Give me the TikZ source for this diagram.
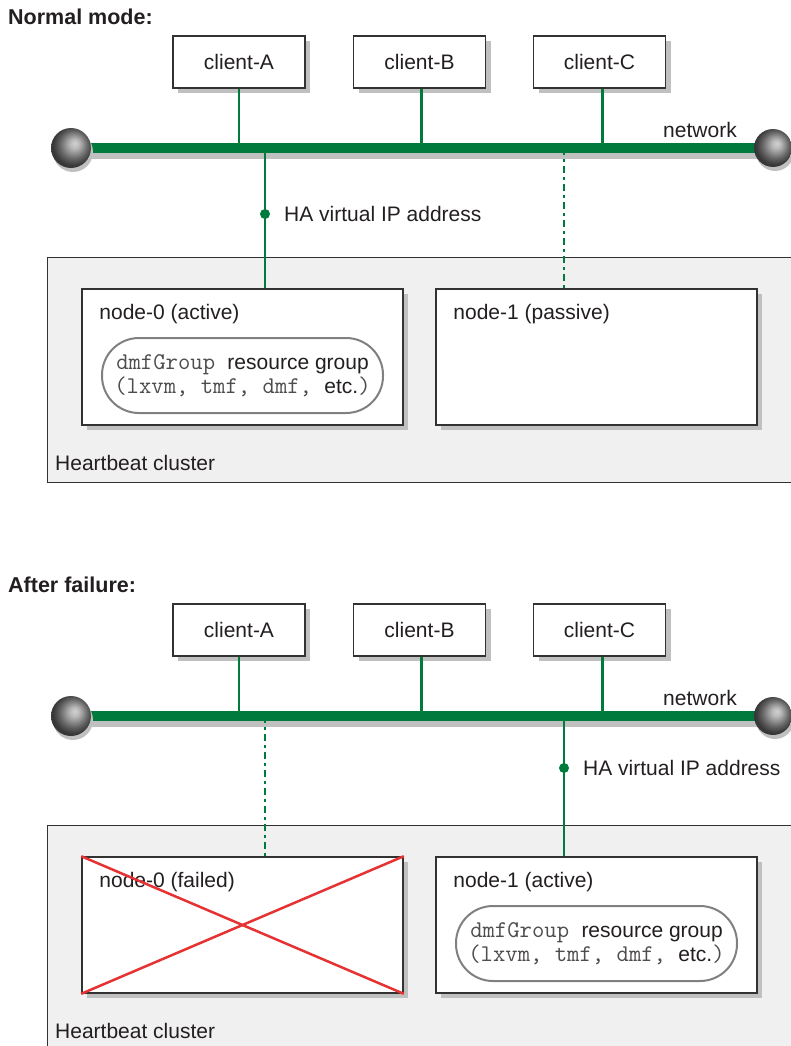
\documentclass[tikz,border=0pt]{standalone}
\usepackage{fontspec}
\setmainfont{Liberation Sans}
\usetikzlibrary{shadows}
\definecolor{netgreen}{RGB}{0,122,61}
\definecolor{txt}{RGB}{35,31,32}
\definecolor{boxline}{RGB}{50,50,50}
\definecolor{clusterfill}{RGB}{240,240,240}
\definecolor{shadowgray}{RGB}{192,192,192}
\definecolor{pillgray}{RGB}{128,128,128}
\definecolor{failred}{RGB}{230,50,50}
\pgfdeclareradialshading{sphereshade}{\pgfpoint{5bp}{6bp}}{color(0bp)=(black!18); color(6bp)=(black!28); color(12bp)=(black!45); color(18bp)=(black!62); color(25bp)=(black!78); color(50bp)=(black!80)}
\tikzset{
  big/.style={font=\fontsize{21}{24}\selectfont, text=txt},
  heading/.style={font=\fontsize{21.5}{24}\selectfont\bfseries, text=txt, inner sep=0pt, anchor=west},
  txtlabel/.style={big, inner sep=0pt, anchor=west},
  boxshadow/.style={general shadow={fill=shadowgray, shadow xshift=5pt, shadow yshift=-5pt}},
  client/.style={draw=boxline, line width=1.6pt, fill=white, minimum width=132pt, minimum height=52pt, inner sep=0pt, boxshadow, big},
  hostbox/.style={draw=boxline, line width=1.6pt, fill=white, minimum width=321pt, minimum height=136pt, inner sep=0pt, boxshadow},
  cluster/.style={draw=boxline, line width=1.2pt, fill=clusterfill, anchor=north west, minimum width=760pt, minimum height=225pt, inner sep=0pt},
  pill/.style={draw=pillgray, line width=2pt, rounded corners=37pt, minimum width=281pt, minimum height=75pt, align=center, inner sep=0pt, big},
  netline/.style={draw=netgreen, line width=10pt},
  netshadow/.style={draw=shadowgray, line width=8pt},
  link/.style={draw=netgreen, line width=2.6pt},
  standby/.style={draw=netgreen, line width=2.6pt, dash pattern=on 7pt off 4pt on 2.5pt off 4.5pt},
  ipdot/.style={circle, fill=netgreen, inner sep=0pt, minimum size=10pt},
  cross/.style={draw=failred, line width=2.5pt}
}
\newcommand{\mtt}[1]{{\color{txt!80}\fontsize{24}{24}\selectfont\ttfamily #1}}
\begin{document}
\begin{tikzpicture}[x=1pt,y=-1pt]
\useasboundingbox (0,0) rectangle (791,1046);
\clip (0,0) rectangle (791,1046);

% ================= Normal mode =================
\node[heading] (h1) at (8,17) {Normal mode:};
\node[cluster] (cl1) at (47,257) {};
\node[txtlabel] (cl1t) at (55,463) {Heartbeat cluster};

\coordinate (netL1) at (71,148);
\coordinate (netR1) at (773,148);

\node[client] (cA1) at (239,62) {client-A};
\node[client] (cB1) at (419.5,62) {client-B};
\node[client] (cC1) at (599.5,62) {client-C};

\node[hostbox] (n0a) at (242.5,357) {};
\node[hostbox] (n1a) at (596.5,357) {};

\draw[link] (cA1.south) -- (cA1.south |- netL1);
\draw[link] ([xshift=2pt]cB1.south) -- ([xshift=2pt]cB1.south |- netL1);
\draw[link] ([xshift=3pt]cC1.south) -- ([xshift=3pt]cC1.south |- netL1);

\draw[netshadow] ([yshift=-7pt]netL1) -- ([yshift=-7pt]netR1);
\draw[netline] (netL1) -- (netR1);
\fill[shadowgray] ([xshift=2pt,yshift=-4pt]netL1) circle (20pt);
\fill[shadowgray] ([xshift=2pt,yshift=-4pt]netR1) circle (19pt);
\shade[shading=sphereshade] (netL1) circle (20pt);
\shade[shading=sphereshade] (netR1) circle (19pt);
\node[big, inner sep=0pt] (net1t) at (700,130) {network};

\coordinate (ip1) at (265,214);
\draw[link] (ip1 |- netL1) -- (ip1 |- n0a.north);
\node[ipdot] (dot1) at (ip1) {};
\node[txtlabel] (ip1t) at (284,214) {HA virtual IP address};

\coordinate (sb1) at (564,148);
\draw[standby] (sb1) -- (sb1 |- n1a.north);

\node[txtlabel] (n0at) at ([xshift=18pt,yshift=-26pt]n0a.north west) {node-0 (active)};
\node[txtlabel] (n1at) at ([xshift=18pt,yshift=-26pt]n1a.north west) {node-1 (passive)};
\node[pill] (rg1) at (242.5,375.5) {\mtt{dmfGroup }resource group\\\mtt{(lxvm, tmf, dmf, }etc.\mtt{)}};

% ================= After failure =================
\node[heading] (h2) at (8,585) {After failure:};
\node[cluster] (cl2) at (47,825) {};
\node[txtlabel] (cl2t) at (55,1031) {Heartbeat cluster};

\coordinate (netL2) at (71,716);
\coordinate (netR2) at (773,716);

\node[client] (cA2) at (239,630) {client-A};
\node[client] (cB2) at (419.5,630) {client-B};
\node[client] (cC2) at (599.5,630) {client-C};

\node[hostbox] (n0b) at (242.5,925) {};
\node[hostbox] (n1b) at (596.5,925) {};

\draw[link] (cA2.south) -- (cA2.south |- netL2);
\draw[link] ([xshift=2pt]cB2.south) -- ([xshift=2pt]cB2.south |- netL2);
\draw[link] ([xshift=3pt]cC2.south) -- ([xshift=3pt]cC2.south |- netL2);

\draw[netshadow] ([yshift=-7pt]netL2) -- ([yshift=-7pt]netR2);
\draw[netline] (netL2) -- (netR2);
\fill[shadowgray] ([xshift=2pt,yshift=-4pt]netL2) circle (20pt);
\fill[shadowgray] ([xshift=2pt,yshift=-4pt]netR2) circle (19pt);
\shade[shading=sphereshade] (netL2) circle (20pt);
\shade[shading=sphereshade] (netR2) circle (19pt);
\node[big, inner sep=0pt] (net2t) at (700,698) {network};

\coordinate (sb2) at (265,716);
\draw[standby] (sb2) -- (sb2 |- n0b.north);

\coordinate (ip2) at (564,768);
\draw[link] (ip2 |- netL2) -- (ip2 |- n1b.north);
\node[ipdot] (dot2) at (ip2) {};
\node[txtlabel] (ip2t) at (583,768) {HA virtual IP address};

\node[txtlabel] (n0bt) at ([xshift=18pt,yshift=-26pt]n0b.north west) {node-0 (failed)};
\node[txtlabel] (n1bt) at ([xshift=18pt,yshift=-26pt]n1b.north west) {node-1 (active)};
\node[pill] (rg2) at (596.5,943.5) {\mtt{dmfGroup }resource group\\\mtt{(lxvm, tmf, dmf, }etc.\mtt{)}};

\draw[cross] (n0b.north west) -- (n0b.south east);
\draw[cross] (n0b.south west) -- (n0b.north east);
\end{tikzpicture}
\end{document}
